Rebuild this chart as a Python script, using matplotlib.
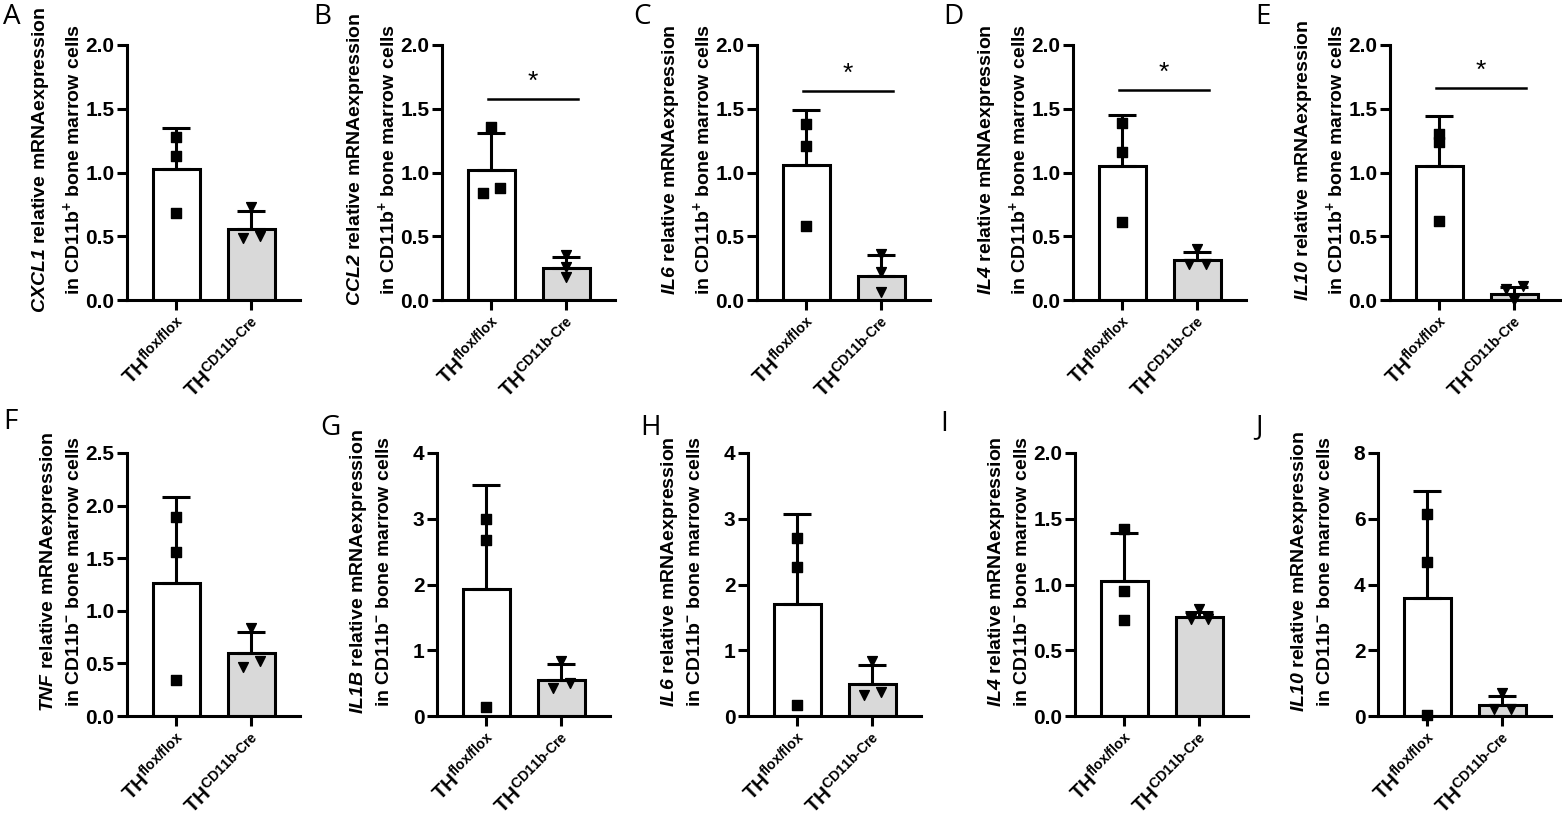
import matplotlib
matplotlib.use('Agg')
import matplotlib.pyplot as plt
import numpy as np

plt.rcParams['font.family'] = ['Liberation Sans', 'DejaVu Sans']
plt.rcParams['font.weight'] = 'bold'
plt.rcParams['mathtext.fontset'] = 'custom'
plt.rcParams['mathtext.rm'] = 'Liberation Sans'
plt.rcParams['mathtext.it'] = 'Liberation Sans:italic'
plt.rcParams['mathtext.bf'] = 'Liberation Sans:bold'
plt.rcParams['mathtext.bfit'] = 'Liberation Sans:italic:bold'

# panel data
letters = ['A', 'B', 'C', 'D', 'E', 'F', 'G', 'H', 'I', 'J']
genes = ['CXCL1', 'CCL2', 'IL6', 'IL4', 'IL10', 'TNF', 'IL1B', 'IL6', 'IL4', 'IL10']
cells = ['+', '+', '+', '+', '+', '-', '-', '-', '-', '-']
ymax = [2.0, 2.0, 2.0, 2.0, 2.0, 2.5, 4, 4, 2.0, 8]
ystep = [0.5, 0.5, 0.5, 0.5, 0.5, 0.5, 1, 1, 0.5, 2]

groups = [r'$\mathbf{TH}^{\mathrm{flox/flox}}$', r'$\mathbf{TH}^{\mathrm{CD11b\text{-}Cre}}$']

flox_mean = [1.03, 1.02, 1.06, 1.05, 1.05, 1.26, 1.93, 1.70, 1.03, 3.59]
flox_sd = [0.32, 0.29, 0.43, 0.40, 0.39, 0.82, 1.58, 1.37, 0.36, 3.25]
flox_pts = [[1.28, 1.13, 0.68], [1.36, 0.84, 0.88], [1.38, 1.21, 0.58],
            [1.39, 1.16, 0.61], [1.30, 1.24, 0.62], [1.89, 1.56, 0.34],
            [3.00, 2.68, 0.13], [2.71, 2.27, 0.16], [1.42, 0.95, 0.73],
            [6.14, 4.68, 0.02]]

cre_mean = [0.56, 0.25, 0.19, 0.31, 0.05, 0.60, 0.54, 0.48, 0.75, 0.34]
cre_sd = [0.14, 0.09, 0.16, 0.07, 0.05, 0.20, 0.25, 0.30, 0.04, 0.28]
cre_pts = [[0.73, 0.49, 0.50], [0.35, 0.26, 0.18], [0.36, 0.22, 0.06],
           [0.40, 0.28, 0.28], [0.11, 0.09, 0.00], [0.84, 0.465, 0.52],
           [0.83, 0.42, 0.50], [0.84, 0.32, 0.37], [0.81, 0.74, 0.74],
           [0.71, 0.22, 0.22]]

sig = [False, True, True, True, True, False, False, False, False, False]
sig_y = [0, 1.58, 1.64, 1.65, 1.66, 0, 0, 0, 0, 0]

# layout (pixels in a 1562x817 canvas)
W, H = 1562, 817
ax_left = [127, 442, 757, 1073, 1390, 127, 437, 748, 1075, 1378]
ax_top = [45] * 5 + [453] * 5
ax_bot = [300] * 5 + [716] * 5
ax_w = 173
letter_x = [3, 313, 633, 943, 1255, 3, 320, 640, 940, 1255]
letter_y = [3, 3, 3, 3, 3, 408, 414, 414, 410, 413]


def spread(vals, thr):
    # horizontal offsets for points that sit too close together
    order = np.argsort(vals)
    offs = np.zeros(len(vals))
    i = 0
    while i < len(order):
        j = i
        while j + 1 < len(order) and vals[order[j + 1]] - vals[order[j]] < thr:
            j += 1
        n = j - i + 1
        if n > 1:
            pos = np.linspace(-0.11, 0.11, n)
            for k in range(n):
                offs[order[i + k]] = pos[k]
        i = j + 1
    return offs


fig = plt.figure(figsize=(W / 100, H / 100), dpi=100)
lw = 2.2

for p in range(10):
    ax = fig.add_axes([ax_left[p] / W, 1 - ax_bot[p] / H, ax_w / W,
                       (ax_bot[p] - ax_top[p]) / H])
    means = [flox_mean[p], cre_mean[p]]
    ax.bar([0, 1], means, width=0.63, color=['white', '#d9d9d9'],
           edgecolor='black', linewidth=lw, zorder=2)
    for x, m, s in [(0, flox_mean[p], flox_sd[p]), (1, cre_mean[p], cre_sd[p])]:
        ax.errorbar(x, m, yerr=[[0], [s]], color='black', elinewidth=lw,
                    capsize=10, capthick=lw, zorder=3)
    thr = 0.028 * ymax[p]
    fp = np.array(flox_pts[p])
    cp = np.array(cre_pts[p])
    ax.scatter(0 + spread(fp, thr), fp, marker='s', s=45, color='black',
               zorder=4, clip_on=False)
    ax.scatter(1 + spread(cp, thr), cp, marker='v', s=50, color='black',
               zorder=4, clip_on=False)

    if sig[p]:
        ax.plot([-0.04, 1.15], [sig_y[p], sig_y[p]], color='black', lw=1.8)
        ax.text(0.55, sig_y[p] + 0.02 * ymax[p], '*', ha='center', va='bottom',
                fontsize=19, fontweight='normal')

    ax.set_xlim(-0.66, 1.65)
    ax.set_ylim(0, ymax[p])
    ax.set_yticks(np.arange(0, ymax[p] + ystep[p] / 2, ystep[p]))
    if ystep[p] < 1:
        ax.set_yticklabels(['%.1f' % v for v in ax.get_yticks()])
    else:
        ax.set_yticklabels(['%d' % v for v in ax.get_yticks()])
    ax.set_xticks([0, 1])
    ax.set_xticklabels(groups, rotation=45, ha='right', rotation_mode='anchor',
                       fontsize=14.5)
    ax.tick_params(axis='both', width=lw, length=7)
    ax.tick_params(axis='y', pad=2, labelsize=15)
    ax.tick_params(axis='x', pad=3, labelsize=14.5)
    for t in ax.get_yticklabels():
        t.set_fontweight('bold')
    ax.spines['top'].set_visible(False)
    ax.spines['right'].set_visible(False)
    ax.spines['left'].set_linewidth(lw)
    ax.spines['bottom'].set_linewidth(lw)

    sign = r'$^{\mathbf{+}}$' if cells[p] == '+' else r'$^{\mathbf{-}}$'
    label = (r'$\mathbfit{' + genes[p] + r'}$ relative mRNAexpression' + '\n' +
             'in CD11b' + sign + ' bone marrow cells')
    ax.set_ylabel(label, fontsize=14, fontweight='bold', linespacing=1.55)
    ax.yaxis.set_label_coords(-0.255, 0.55)

    fig.text(letter_x[p] / W, 1 - letter_y[p] / H, letters[p], ha='left',
             va='top', fontsize=20, fontweight='normal', family='Open Sans')

fig.savefig('out.png', dpi=100, facecolor='white')
